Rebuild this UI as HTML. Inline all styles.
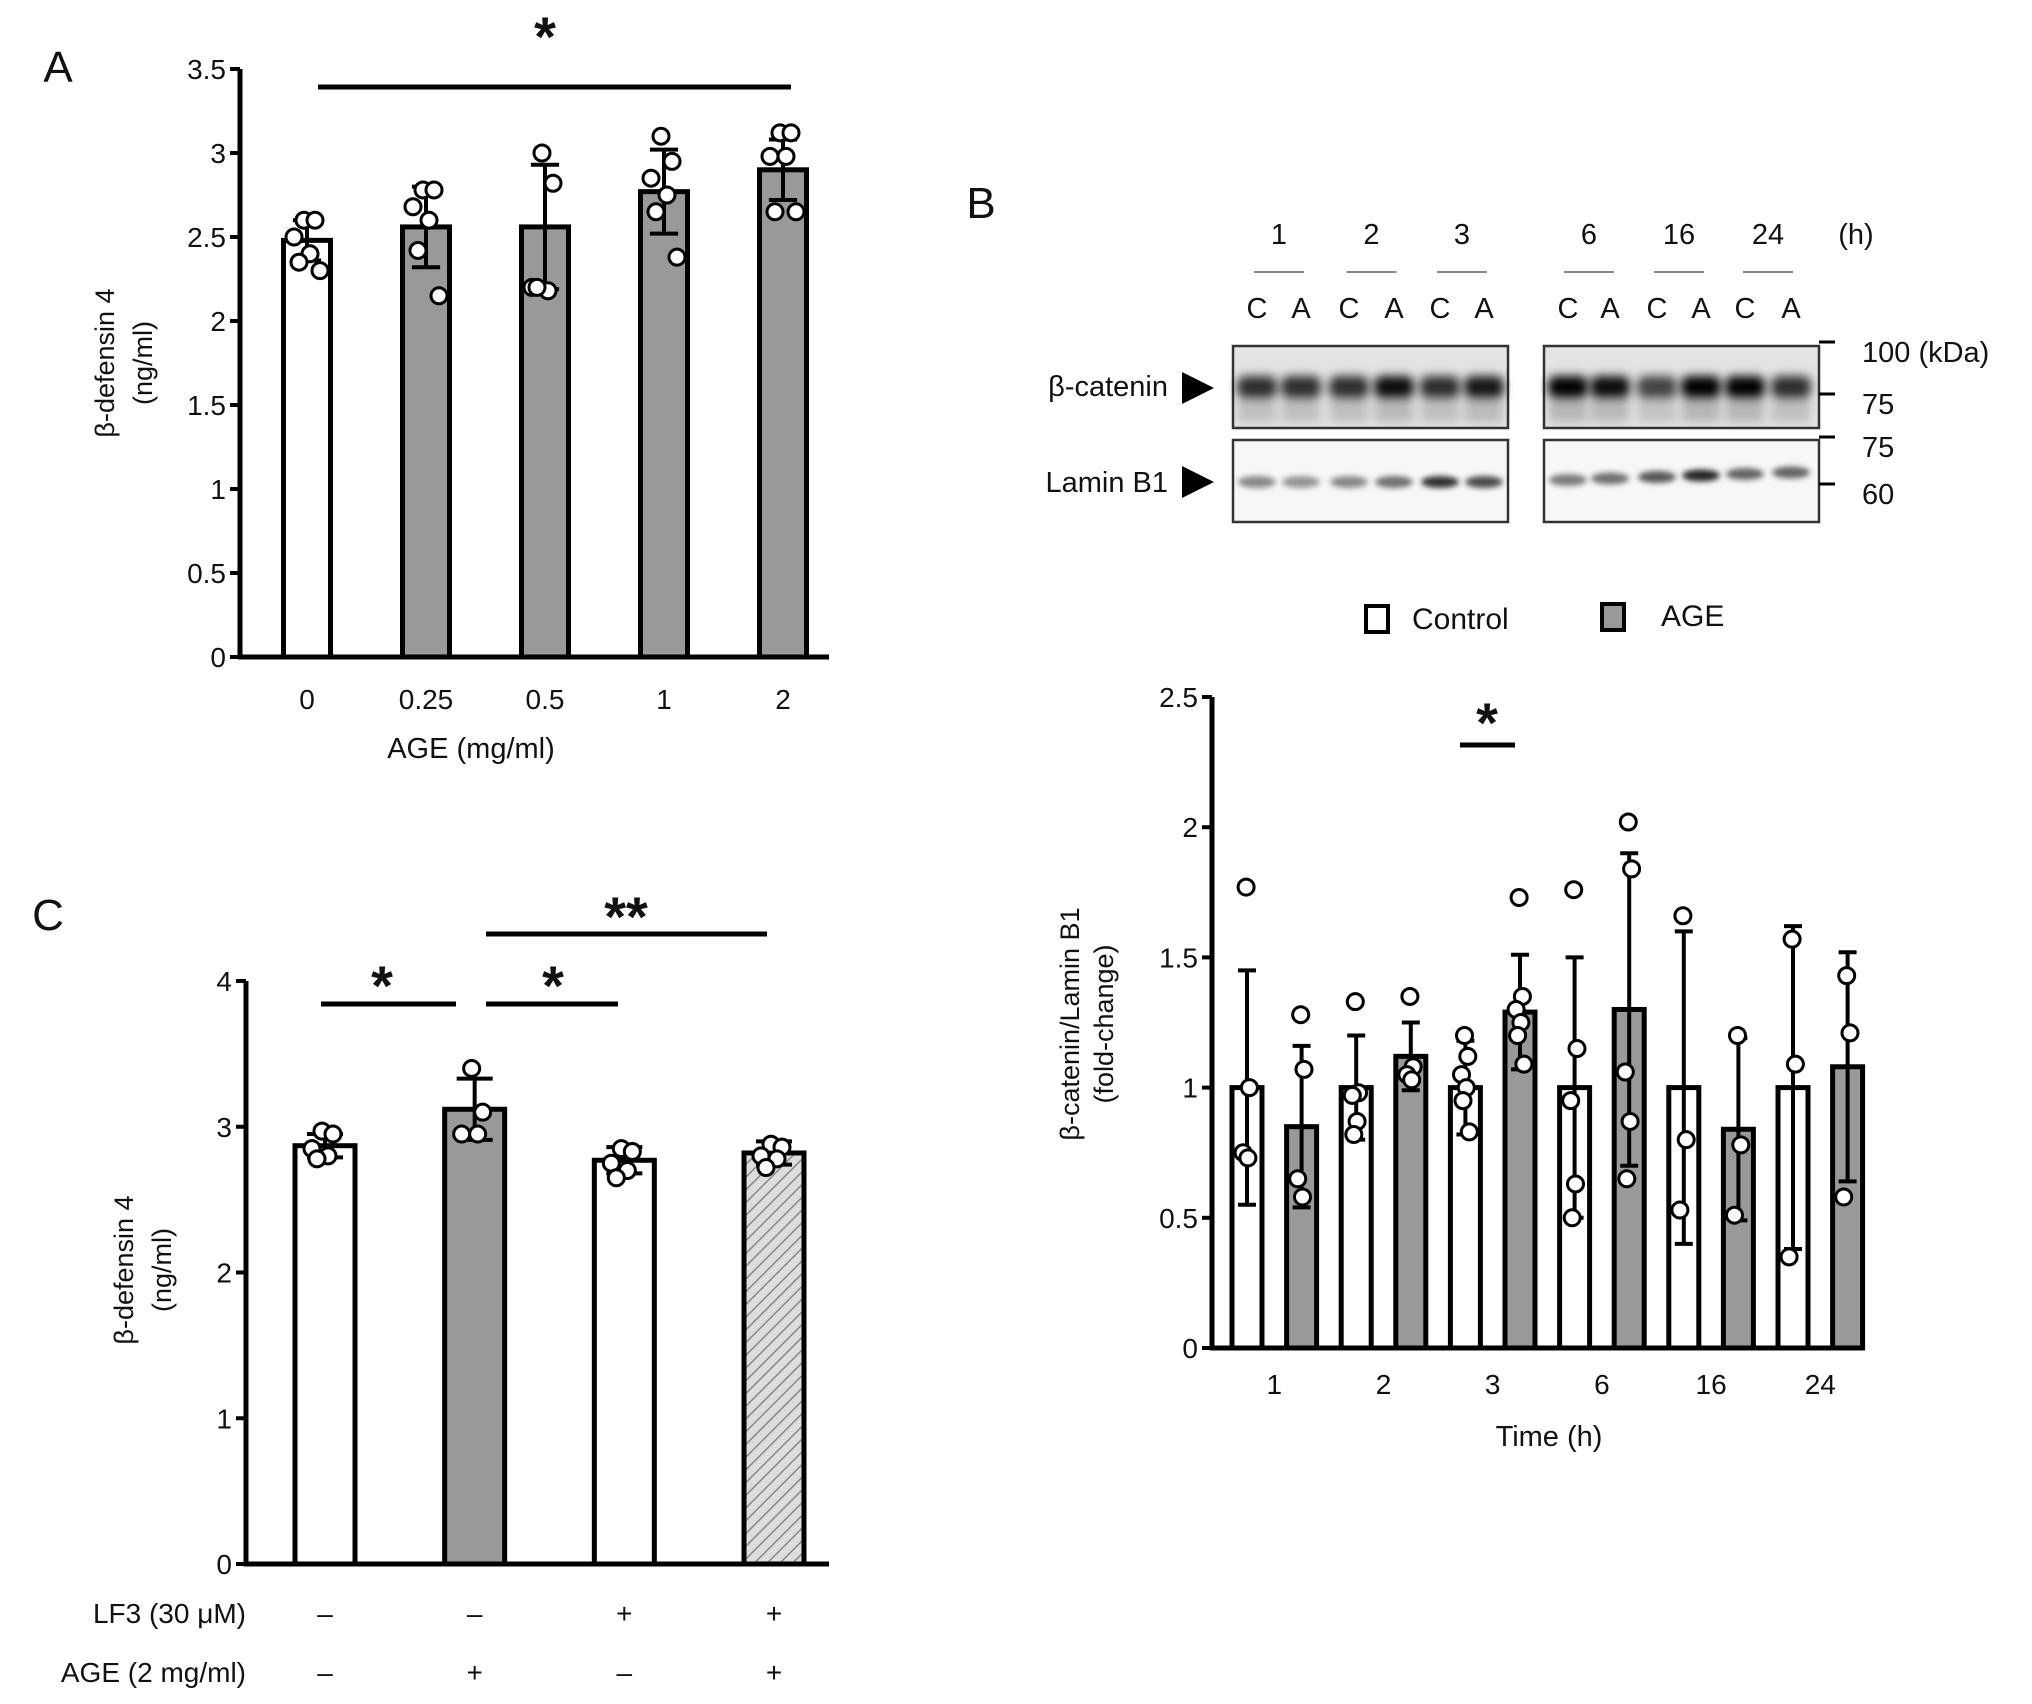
<!DOCTYPE html>
<html><head><meta charset="utf-8">
<style>
html,body{margin:0;padding:0;background:#fff}
svg{display:block}
text{font-family:"Liberation Sans",Arial,sans-serif;fill:#111}
</style></head>
<body>
<svg id="fig" width="2032" height="1704" viewBox="0 0 2032 1704" xmlns="http://www.w3.org/2000/svg">
<defs>
<filter id="blur" x="-50%" y="-50%" width="200%" height="200%"><feGaussianBlur stdDeviation="5"/></filter>
<filter id="blur2" x="-50%" y="-50%" width="200%" height="200%"><feGaussianBlur stdDeviation="3"/></filter>
<pattern id="hatch" width="9" height="9" patternUnits="userSpaceOnUse" patternTransform="rotate(45)">
<rect width="9" height="9" fill="#ddd"/><line x1="0" y1="0" x2="0" y2="9" stroke="#888" stroke-width="3"/>
</pattern>
</defs>
<g id="A"></g>
<g id="C"></g>
<g id="B"></g>
</svg>
<script>
// ---- Panel A data ----
const aCategories = ["0","0.25","0.5","1","2"];
const aMeans = [2.48, 2.56, 2.56, 2.77, 2.90];
const aErrors = [0.12, 0.24, 0.37, 0.25, 0.18];
const aPoints = [[2.60,2.60,2.50,2.40,2.35,2.30],[2.78,2.78,2.68,2.60,2.42,2.15],[3.0,2.82,2.2,2.18,2.2],[3.1,2.95,2.85,2.75,2.65,2.38],[3.12,3.12,2.98,2.98,2.65,2.65]];
const aTicks = [0,0.5,1,1.5,2,2.5,3,3.5];
// ---- Panel C data ----
const cMeans = [2.87, 3.12, 2.77, 2.82];
const cErrors = [0.08, 0.21, 0.09, 0.08];
const cPoints = [[2.97,2.95,2.85,2.80,2.78],[3.4,3.1,2.95,2.95],[2.85,2.83,2.75,2.70,2.65],[2.88,2.86,2.80,2.78,2.72]];
const cTicks = [0,1,2,3,4];
const cLF3 = ["–","–","+","+"];
const cAGE = ["–","+","–","+"];
// ---- Panel B data ----
const bCategories = ["1","2","3","6","16","24"];
const bControlMeans = [1,1,1,1,1,1];
const bControlErr = [0.45,0.2,0.18,0.5,0.6,0.62];
const bAgeMeans = [0.85,1.12,1.29,1.30,0.84,1.08];
const bAgeErr = [0.31,0.13,0.22,0.6,0.35,0.44];
const bControlPts = [[1.77,1.0,0.75,0.73],[1.33,0.98,0.97,0.87,0.82],[1.2,1.12,1.05,1.0,0.95,0.83],[1.76,1.15,0.95,0.63,0.5],[1.66,0.8,0.53],[1.57,1.09,0.35]];
const bAgePts = [[1.28,1.07,0.65,0.58],[1.35,1.08,1.05,1.03],[1.73,1.35,1.30,1.25,1.20,1.09],[2.02,1.84,1.06,0.87,0.65],[1.2,0.78,0.51],[1.43,1.21,0.58]];
const bTicks = [0,0.5,1,1.5,2,2.5];
const blotCatenin = [0.8,0.8,0.8,0.95,0.8,0.9, 1,0.95,0.7,1,1,0.8];
const blotLamin = [0.45,0.4,0.45,0.55,0.8,0.7, 0.5,0.55,0.65,0.85,0.6,0.6];

const NS="http://www.w3.org/2000/svg";
function el(parent,tag,attrs,txt){const e=document.createElementNS(NS,tag);for(const k in attrs)e.setAttribute(k,attrs[k]);if(txt!==undefined)e.textContent=txt;parent.appendChild(e);return e;}
function scale(v0,v1,p0,p1){return v=>p0+(v-v0)*(p1-p0)/(v1-v0);}

function axes(g,x0,x1,yS,ticks,fmt,fs){
  const yTop=yS(ticks[ticks.length-1]), yBot=yS(0);
  let a=el(g,'line',{x1:x0,y1:yTop,x2:x0,y2:yBot+2,stroke:'#000','stroke-width':5});
  
  let b=el(g,'line',{x1:x0-2,y1:yBot,x2:x1,y2:yBot,stroke:'#000','stroke-width':5});
  
  ticks.forEach(t=>{
    const y=yS(t);
    let tk=el(g,'line',{x1:x0-10,y1:y,x2:x0,y2:y,stroke:'#000','stroke-width':4});
    
    let tl=el(g,'text',{x:x0-14,y:y+10,'text-anchor':'end','font-size':fs},fmt(t));
    
  });
}
function bar(g,cx,w,yS,mean,err,fill,name){
  const y=yS(mean),y0=yS(0);
  let r=el(g,'rect',{x:cx-w/2,y:y,width:w,height:y0-y,fill:fill,stroke:'#000','stroke-width':5});
  
  let e=el(g,'line',{x1:cx,y1:yS(mean+err),x2:cx,y2:yS(mean-err),stroke:'#000','stroke-width':4});
  
  const cw=w*0.3;
  let c1=el(g,'line',{x1:cx-cw,y1:yS(mean+err),x2:cx+cw,y2:yS(mean+err),stroke:'#000','stroke-width':4});
  
  let c2=el(g,'line',{x1:cx-cw,y1:yS(mean-err),x2:cx+cw,y2:yS(mean-err),stroke:'#000','stroke-width':4});
  
}
function dots(g,cx,pts,yS,spread,r){
  pts.forEach((v,i)=>{
    const off=(i%2===0?-1:1)*spread*((i%3)/2+0.3);
    let c=el(g,'circle',{cx:cx+off,cy:yS(v),r:r,fill:'#fff',stroke:'#000','stroke-width':3});
    
  });
}
function txt(g,x,y,s,fs,name,anchor,extra){
  let t=el(g,'text',Object.assign({x:x,y:y,'font-size':fs,'text-anchor':anchor||'middle'},extra||{}),s);
  return t;
}
function sline(g,x1,x2,y){
  let l=el(g,'line',{x1:x1,y1:y,x2:x2,y2:y,stroke:'#000','stroke-width':5});
  
}
const starStyle={'font-weight':'bold'};

// ===== Panel A =====
(function(){
  const g=document.getElementById('A');
  const x0=240,x1=829;
  const yS=scale(0,3.5,657,69);
  txt(g,58,82,'A',44,'panel-label-a');
  axes(g,x0,x1,yS,aTicks,t=>String(t),28);
  const xStep=(783-307)/(aCategories.length-1);
  aCategories.forEach((c,i)=>{
    const cx=307+i*xStep;
    bar(g,cx,47,yS,aMeans[i],aErrors[i],i===0?'#fff':'#999','bar-'+c);
    dots(g,cx,aPoints[i],yS,10,8);
    txt(g,cx,709,c,28,'x-tick-label');
  });
  txt(g,471,758,'AGE (mg/ml)',29,'x-axis-title');
  txt(g,0,0,'β-defensin 4',27,'y-axis-title',null,{transform:'translate(114,363) rotate(-90)'});
  txt(g,0,0,'(ng/ml)',27,'y-axis-title',null,{transform:'translate(152,363) rotate(-90)'});
  sline(g,318,791,87);
  txt(g,545,56,'*',56,'significance-star',null,starStyle);
})();

// ===== Panel C =====
(function(){
  const g=document.getElementById('C');
  const x0=246,x1=829;
  const yS=scale(0,4,1564,981);
  txt(g,48,930,'C',44,'panel-label-c');
  axes(g,x0,x1,yS,cTicks,t=>String(t),28);
  const xs0=325,xs1=774,step=(xs1-xs0)/(cMeans.length-1);
  const fills=['#fff','#999','#fff','url(#hatch)'];
  cMeans.forEach((m,i)=>{
    const cx=xs0+i*step;
    bar(g,cx,60,yS,m,cErrors[i],fills[i],'bar-group-'+(i+1));
    dots(g,cx,cPoints[i],yS,10,8);
    txt(g,cx,1623,cLF3[i],28,'lf3-sign');
    txt(g,cx,1682,cAGE[i],28,'age-sign');
  });
  txt(g,246,1623,'LF3 (30 μM)',28,'lf3-row-label','end');
  txt(g,246,1682,'AGE (2 mg/ml)',28,'age-row-label','end');
  txt(g,0,0,'β-defensin 4',27,'y-axis-title',null,{transform:'translate(133,1270) rotate(-90)'});
  txt(g,0,0,'(ng/ml)',27,'y-axis-title',null,{transform:'translate(171,1270) rotate(-90)'});
  sline(g,321,456,1004); txt(g,382,1005,'*',56,'significance-star',null,starStyle);
  sline(g,486,618,1004); txt(g,553,1005,'*',56,'significance-star',null,starStyle);
  sline(g,486,767,934);  txt(g,626,936,'**',56,'significance-star',null,starStyle);
})();

// ===== Panel B =====
(function(){
  const g=document.getElementById('B');
  txt(g,981,218,'B',44,'panel-label-b');
  const laneX=[1257,1301,1349,1394,1440,1484,1568,1610,1657,1701,1745,1791];
  bCategories.forEach((c,i)=>{
    const cx=(laneX[2*i]+laneX[2*i+1])/2;
    txt(g,cx,244,c,29,'blot-time-label');
    let u=el(g,'line',{x1:cx-25,y1:272,x2:cx+25,y2:272,stroke:'#888','stroke-width':2});
    
  });
  txt(g,1856,244,'(h)',29,'blot-time-unit');
  laneX.forEach((x,i)=>txt(g,x,318,i%2===0?'C':'A',29,'lane-label'));
  const boxes=[[1233,1508,346,428,'catenin'],[1544,1819,346,428,'catenin'],[1233,1508,440,522,'lamin'],[1544,1819,440,522,'lamin']];
  boxes.forEach(b=>{
    let r=el(g,'rect',{x:b[0],y:b[2],width:b[1]-b[0],height:b[3]-b[2],fill:b[4]==='catenin'?'#e3e3e3':'#f7f7f7',stroke:'#333','stroke-width':2.5});
    
  });
  laneX.forEach((x,i)=>{
    const k=blotCatenin[i];
    let e=el(g,'rect',{x:x-20,y:376,width:40,height:22,rx:8,fill:'#000','fill-opacity':k,filter:'url(#blur)'});
    
    let e2=el(g,'rect',{x:x-19,y:398,width:38,height:24,fill:'#000','fill-opacity':k*0.2,filter:'url(#blur)'});
    
    const l=blotLamin[i];
    let e3=el(g,'ellipse',{cx:x,cy:i<6?482:480-(i-6)*1.5,rx:19,ry:6,fill:'#000','fill-opacity':l,filter:'url(#blur2)'});
    
  });
  [352,404,447,494].forEach(m=>{
    let t=el(g,'line',{x1:1819,y1:m-10,x2:1835,y2:m-10,stroke:'#000','stroke-width':3});
    
  });
  txt(g,1862,362,'100 (kDa)',29,'marker-label','start');
  txt(g,1862,414,'75',29,'marker-label','start');
  txt(g,1862,457,'75',29,'marker-label','start');
  txt(g,1862,504,'60',29,'marker-label','start');
  txt(g,1168,396,'β-catenin',29,'beta-catenin-label','end');
  txt(g,1168,492,'Lamin B1',29,'lamin-b1-label','end');
  let t1=el(g,'polygon',{points:'1182,372 1214,388 1182,404',fill:'#000'});
  
  let t2=el(g,'polygon',{points:'1182,466 1214,482 1182,498',fill:'#000'});
  
  let l1=el(g,'rect',{x:1366,y:606,width:22,height:26,fill:'#fff',stroke:'#000','stroke-width':4});
  
  txt(g,1412,629,'Control',30,'legend-control-label','start');
  let l2=el(g,'rect',{x:1602,y:604,width:22,height:26,fill:'#999',stroke:'#000','stroke-width':4});
  
  txt(g,1661,626,'AGE',30,'legend-age-label','start');
  const x0=1212,x1=1862;
  const yS=scale(0,2.5,1348,697);
  axes(g,x0,x1,yS,bTicks,t=>String(t),28);
  const first=1247,step=54.6;
  bCategories.forEach((c,i)=>{
    const cx=first+2*i*step, ax=cx+step;
    bar(g,cx,30,yS,bControlMeans[i],bControlErr[i],'#fff','bar-control-'+c+'h');
    bar(g,ax,30,yS,bAgeMeans[i],bAgeErr[i],'#999','bar-age-'+c+'h');
    dots(g,cx,bControlPts[i],yS,3,8);
    dots(g,ax,bAgePts[i],yS,3,8);
    txt(g,(cx+ax)/2,1394,c,28,'x-tick-label');
  });
  txt(g,1549,1446,'Time (h)',29,'x-axis-title');
  txt(g,0,0,'β-catenin/Lamin B1',27,'y-axis-title',null,{transform:'translate(1079,1024) rotate(-90)'});
  txt(g,0,0,'(fold-change)',27,'y-axis-title',null,{transform:'translate(1113,1024) rotate(-90)'});
  sline(g,1460,1515,745);
  txt(g,1487,742,'*',56,'significance-star',null,starStyle);
})();
</script>
</body></html>
